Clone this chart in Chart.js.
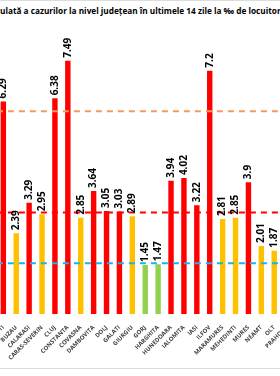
<!DOCTYPE html>
<html>
<head>
<meta charset="utf-8">
<script src="https://cdn.jsdelivr.net/npm/chart.js@4.4.1/dist/chart.umd.min.js"></script>
<style>
  html, body { margin: 0; padding: 0; width: 280px; height: 376px; overflow: hidden; background: #fff; position: relative; }
  #title { position: absolute; top: 5px; white-space: nowrap; font-family: 'Liberation Sans Narrow', 'Open Sans', sans-serif; font-weight: bold; font-size: 9px; color: #000; }
  #wrap { position: absolute; top: 0; left: 0; width: 300px; height: 376px; }
  .rule { position: absolute; left: 0; width: 280px; height: 1px; background: #dcdcdc; }
</style>
</head>
<body>
<div class="rule" style="top:0"></div>
<div id="title"><span id="tpre">Rata de incidență cum</span><span id="tvis">ulată a cazurilor la nivel județean în ultimele 14 zile la ‰ de locuitor</span>i</div>
<div id="wrap"><canvas id="incChart"></canvas></div>
<div class="rule" style="top:368px"></div>
<script>
// judetele vizibile in decupaj (PRAHOVA e taiat la dreapta)
const judete = ['BUCURESTI', 'BUZAU', 'CALARASI', 'CARAS-SEVERIN', 'CLUJ', 'CONSTANTA', 'COVASNA',
  'DAMBOVITA', 'DOLJ', 'GALATI', 'GIURGIU', 'GORJ', 'HARGHITA', 'HUNEDOARA', 'IALOMITA', 'IASI',
  'ILFOV', 'MARAMURES', 'MEHEDINTI', 'MURES', 'NEAMT', 'OLT', 'PRAHOVA'];
const rata = [6.29, 2.39, 3.29, 2.95, 6.38, 7.49, 2.85, 3.64, 3.05, 3.03, 2.89, 1.45, 1.47, 3.94,
  4.02, 3.22, 7.2, 2.81, 2.85, 3.9, 2.01, 1.87, null];
const praguri = [6, 3, 1.5];

const culoriPrag = ['#F39A5C', '#FF0000', '#1AB4E8'];

function culoare(v) {
  if (v == null) return '#FF0000';
  if (v < 1.5) return '#92D050';
  if (v < 3) return '#FFC000';
  return '#FF0000';
}

// liniile de prag, peste bare
const pragPlugin = {
  id: 'praguri',
  afterDatasetsDraw(chart) {
    const ctx = chart.ctx, area = chart.chartArea, ys = chart.scales.y;
    ctx.save();
    ctx.lineWidth = 2;
    ctx.setLineDash([6, 5]);
    praguri.forEach(function (p, i) {
      const y = ys.getPixelForValue(p);
      ctx.strokeStyle = culoriPrag[i];
      ctx.beginPath();
      ctx.moveTo(area.left, y);
      ctx.lineTo(area.right, y);
      ctx.stroke();
    });
    ctx.restore();

    // etichetele valorilor, rotite
    const meta = chart.getDatasetMeta(0);
    ctx.save();
    ctx.fillStyle = '#000';
    ctx.font = 'bold 10px "Open Sans"';
    ctx.textAlign = 'left';
    ctx.textBaseline = 'middle';
    meta.data.forEach(function (bar, i) {
      if (rata[i] == null) return;
      ctx.save();
      ctx.translate(bar.x, bar.y - 3);
      ctx.rotate(-Math.PI / 2);
      ctx.fillText(String(rata[i]), 0, 0);
      ctx.restore();
    });
    ctx.restore();
  }
};

const wrap = document.getElementById('wrap');
let wrapW = 300;

const chart = new Chart(document.getElementById('incChart'), {
  type: 'bar',
  data: {
    labels: judete,
    datasets: [{
      data: rata,
      backgroundColor: rata.map(culoare),
      categoryPercentage: 1,
      barPercentage: 0.42
    }]
  },
  options: {
    responsive: true,
    maintainAspectRatio: false,
    animation: false,
    layout: { padding: { top: 43.6, bottom: 8, left: 0, right: 0 } },
    plugins: { legend: { display: false }, tooltip: { enabled: false } },
    scales: {
      x: {
        grid: { display: false },
        border: { display: false },
        ticks: {
          autoSkip: false,
          minRotation: 45,
          maxRotation: 45,
          padding: 2,
          color: '#404040',
          font: { family: "'Liberation Sans Narrow', 'Open Sans'", size: 6, weight: 'bold' }
        }
      },
      y: { display: false, min: 0, max: 8 }
    }
  },
  plugins: [pragPlugin]
});

// potrivim pasul barelor si baza cu decupajul original
const pasX = 12.9, x0 = 3, bazaY = 314;
for (let k = 0; k < 3; k++) {
  const xs = chart.scales.x;
  const step = xs.getPixelForValue(1) - xs.getPixelForValue(0);
  wrapW += (pasX - step) * judete.length;
  wrap.style.width = wrapW + 'px';
  chart.options.layout.padding.bottom += chart.chartArea.bottom - bazaY;
  chart.resize();
  chart.update();
}
wrap.style.left = (x0 - chart.scales.x.getPixelForValue(0)) + 'px';

// titlul: partea vizibila ocupa toata latimea
const title = document.getElementById('title');
const tvis = document.getElementById('tvis');
let fs = 9;
fs = fs * 281 / tvis.getBoundingClientRect().width;
title.style.fontSize = fs + 'px';
title.style.left = (-document.getElementById('tpre').getBoundingClientRect().width) + 'px';
</script>
</body>
</html>
